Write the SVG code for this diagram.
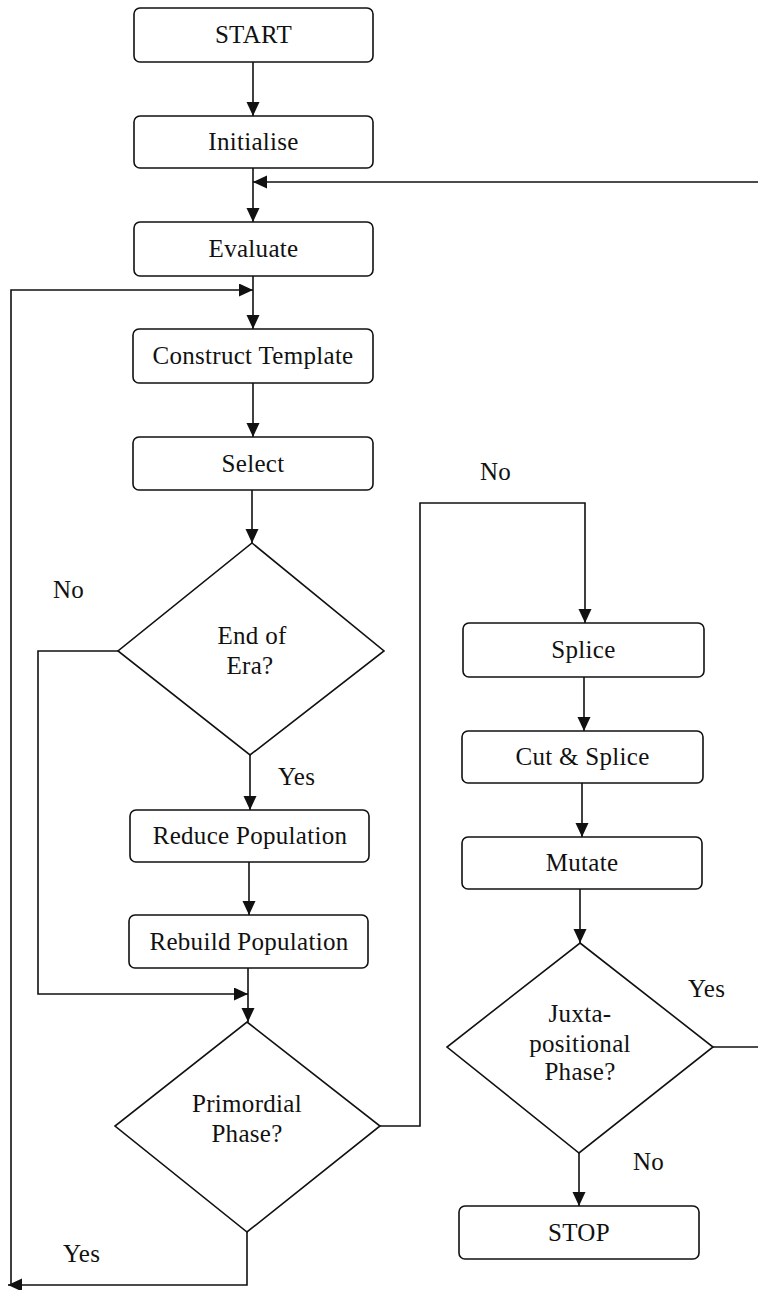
<svg xmlns="http://www.w3.org/2000/svg" width="758" height="1290" viewBox="0 0 758 1290">
  <style>
    .box { fill: #fff; stroke: #111; stroke-width: 1.6; }
    .dec { fill: #fff; stroke: #111; stroke-width: 1.6; }
    .lbl { font-family: "Liberation Serif", "Times New Roman", serif; font-size: 25px; fill: #111; text-anchor: middle; letter-spacing: 0.3px; }
    .tag { font-family: "Liberation Serif", "Times New Roman", serif; font-size: 25px; fill: #111; letter-spacing: 0.3px; }
    .edge { fill: none; stroke: #111; stroke-width: 1.6; }
  </style>
  <defs>
    <marker id="arrow" markerUnits="userSpaceOnUse" markerWidth="15" markerHeight="14" refX="14" refY="6.5" orient="auto">
      <path d="M0,0 L14,6.5 L0,13 z" fill="#111"/>
    </marker>
  </defs>
  <rect width="758" height="1290" fill="#fff"/>

  <!-- connectors -->
  <g id="connectors">
    <path class="edge" d="M253,62 V116" marker-end="url(#arrow)"/>
    <path class="edge" d="M253,168 V222" marker-end="url(#arrow)"/>
    <path class="edge" d="M758,182 H253" marker-end="url(#arrow)"/>
    <path class="edge" d="M253,276 V329" marker-end="url(#arrow)"/>
    <path class="edge" d="M11,1285 V290 H253" marker-end="url(#arrow)"/>
    <path class="edge" d="M253,383 V437" marker-end="url(#arrow)"/>
    <path class="edge" d="M252,490 V543" marker-end="url(#arrow)"/>
    <path class="edge" d="M118,651 H38 V994 H248" marker-end="url(#arrow)"/>
    <path class="edge" d="M250,755 V810" marker-end="url(#arrow)"/>
    <path class="edge" d="M249,862 V915" marker-end="url(#arrow)"/>
    <path class="edge" d="M248,968 V1022" marker-end="url(#arrow)"/>
    <path class="edge" d="M247,1232 V1285 H8" marker-end="url(#arrow)"/>
    <path class="edge" d="M380,1126 H420 V503 H585 V623" marker-end="url(#arrow)"/>
    <path class="edge" d="M584,677 V731" marker-end="url(#arrow)"/>
    <path class="edge" d="M582,783 V837" marker-end="url(#arrow)"/>
    <path class="edge" d="M580,889 V943" marker-end="url(#arrow)"/>
    <path class="edge" d="M713,1047 H758"/>
    <path class="edge" d="M579,1153 V1206" marker-end="url(#arrow)"/>
  </g>

  <!-- branch labels -->
  <g id="branch-labels">
    <text class="tag" x="53" y="598">No</text>
    <text class="tag" x="278" y="785">Yes</text>
    <text class="tag" x="480" y="480">No</text>
    <text class="tag" x="63" y="1262">Yes</text>
    <text class="tag" x="688" y="997">Yes</text>
    <text class="tag" x="633" y="1170">No</text>
  </g>

  <!-- process steps -->
  <g id="start">
    <rect class="box" x="134" y="8" width="239" height="54" rx="6"/>
    <text class="lbl" x="253.5" y="43">START</text>
  </g>
  <g id="initialise">
    <rect class="box" x="134" y="116" width="239" height="52" rx="6"/>
    <text class="lbl" x="253.5" y="150">Initialise</text>
  </g>
  <g id="evaluate">
    <rect class="box" x="134" y="222" width="239" height="54" rx="6"/>
    <text class="lbl" x="253.5" y="257">Evaluate</text>
  </g>
  <g id="construct-template">
    <rect class="box" x="133" y="329" width="240" height="54" rx="6"/>
    <text class="lbl" x="253" y="364">Construct Template</text>
  </g>
  <g id="select">
    <rect class="box" x="133" y="437" width="240" height="53" rx="6"/>
    <text class="lbl" x="253" y="472">Select</text>
  </g>
  <g id="end-of-era">
    <polygon class="dec" points="252,543 384,651 250,755 118,651"/>
    <text class="lbl" x="252" y="644">End of</text>
    <text class="lbl" x="250" y="674">Era?</text>
  </g>
  <g id="reduce-population">
    <rect class="box" x="130" y="810" width="239" height="52" rx="6"/>
    <text class="lbl" x="250" y="844">Reduce Population</text>
  </g>
  <g id="rebuild-population">
    <rect class="box" x="129" y="915" width="239" height="53" rx="6"/>
    <text class="lbl" x="249" y="950">Rebuild Population</text>
  </g>
  <g id="primordial-phase">
    <polygon class="dec" points="247,1022 380,1126 247,1232 115,1126"/>
    <text class="lbl" x="247" y="1112">Primordial</text>
    <text class="lbl" x="247" y="1142">Phase?</text>
  </g>
  <g id="splice">
    <rect class="box" x="463" y="623" width="241" height="54" rx="6"/>
    <text class="lbl" x="583.5" y="658">Splice</text>
  </g>
  <g id="cut-and-splice">
    <rect class="box" x="462" y="731" width="241" height="52" rx="6"/>
    <text class="lbl" x="582.5" y="765">Cut &amp; Splice</text>
  </g>
  <g id="mutate">
    <rect class="box" x="462" y="837" width="240" height="52" rx="6"/>
    <text class="lbl" x="582" y="871">Mutate</text>
  </g>
  <g id="juxtapositional-phase">
    <polygon class="dec" points="580,943 713,1047 579,1153 447,1047"/>
    <text class="lbl" x="580" y="1022">Juxta-</text>
    <text class="lbl" x="580" y="1052">positional</text>
    <text class="lbl" x="580" y="1080">Phase?</text>
  </g>
  <g id="stop">
    <rect class="box" x="459" y="1206" width="240" height="53" rx="6"/>
    <text class="lbl" x="579" y="1241">STOP</text>
  </g>
</svg>
